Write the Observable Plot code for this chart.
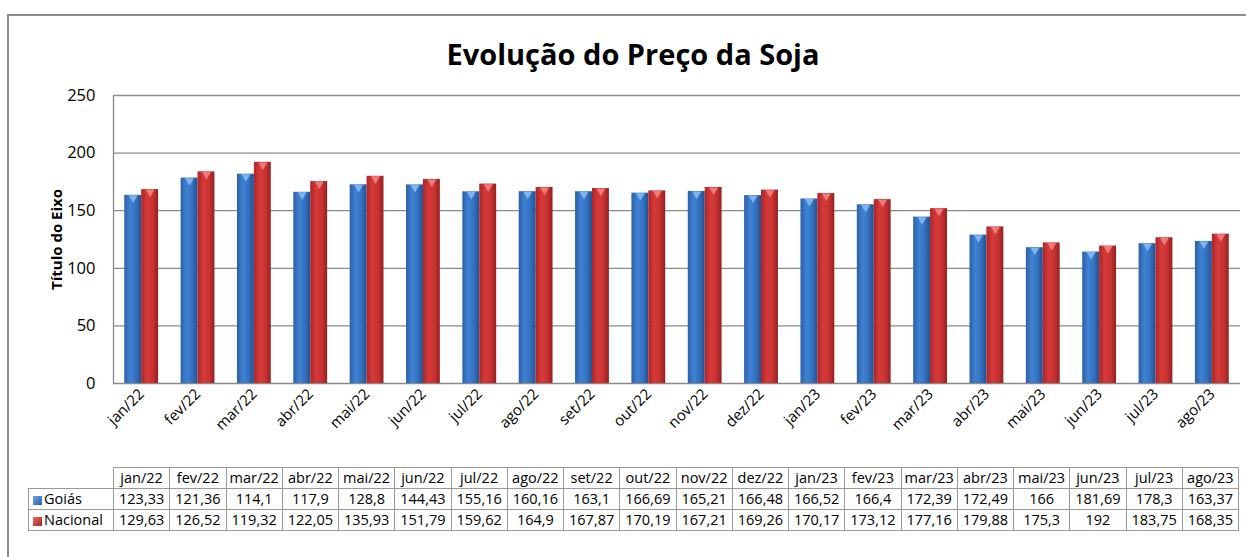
<!DOCTYPE html>
<html>
<head>
<meta charset="utf-8">
<script src="https://cdn.jsdelivr.net/npm/d3@7"></script>
<script src="https://cdn.jsdelivr.net/npm/@observablehq/plot@0.6"></script>
<style>
  html, body { margin: 0; padding: 0; background: #fff; overflow: hidden; }
  #wrap { position: relative; width: 1246px; height: 557px; overflow: hidden; font-family: "Open Sans", "Noto Sans", sans-serif; }
  #border { position: absolute; left: 7px; top: 14px; width: 1239px; height: 543px; border-top: 2px solid #8e8e8e; border-left: 2px solid #8e8e8e; box-sizing: border-box; }
  #title { position: absolute; left: 0; width: 1246px; top: 34px; text-align: center; font-size: 29px; font-weight: bold; color: #000; line-height: 40px; padding-left: 20px; box-sizing: border-box; }
  #chart { position: absolute; left: 0; top: 80px; }
  #tbl { position: absolute; left: 28px; top: 467px; border-collapse: collapse; table-layout: fixed; font-size: 14.5px; color: #000; }
  #tbl td { border: 1px solid #9a9a9a; text-align: center; height: 20px; padding: 0; white-space: nowrap; line-height: 20px; }
  #tbl td.lab { text-align: left; padding-left: 4px; }
  #tbl td.empty { border-top: none; border-left: none; }
  .sw { display: inline-block; width: 9px; height: 9px; margin-right: 2px; vertical-align: -1px; }
</style>
</head>
<body>
<div id="wrap">
  <div id="border"></div>
  <div id="title">Evolução do Preço da Soja</div>
  <div id="chart"></div>
  <table id="tbl"></table>
</div>
<script>
const months = ["jan/22","fev/22","mar/22","abr/22","mai/22","jun/22","jul/22","ago/22","set/22","out/22","nov/22","dez/22","jan/23","fev/23","mar/23","abr/23","mai/23","jun/23","jul/23","ago/23"];
const seriesNames = ["Goiás", "Nacional"];
// values as printed in the data table below the chart
const goias = [123.33,121.36,114.1,117.9,128.8,144.43,155.16,160.16,163.1,166.69,165.21,166.48,166.52,166.4,172.39,172.49,166,181.69,178.3,163.37];
const nacional = [129.63,126.52,119.32,122.05,135.93,151.79,159.62,164.9,167.87,170.19,167.21,169.26,170.17,173.12,177.16,179.88,175.3,192,183.75,168.35];
const yTicks = [0, 50, 100, 150, 200, 250];

// In the picture the bars show the table values in reverse order
const n = months.length;
const rows = months.map((m, i) => ({ i, month: m, goias: goias[n - 1 - i], nacional: nacional[n - 1 - i] }));

const chart = Plot.plot({
  width: 1246,
  height: 360,
  marginLeft: 113,
  marginRight: 6,
  marginTop: 15,
  marginBottom: 57,
  style: { fontFamily: "'Open Sans', 'Noto Sans', sans-serif", fontSize: "15px", color: "#000", background: "transparent", overflow: "visible" },
  x: {
    domain: [0, n],
    ticks: months.map((m, i) => i + 0.5),
    tickFormat: d => months[Math.floor(d)],
    tickRotate: -45,
    tickSize: 0,
    tickPadding: 8,
    label: null
  },
  y: {
    domain: [0, 250],
    ticks: yTicks,
    tickSize: 0,
    tickPadding: 18,
    label: null
  },
  marks: [
    Plot.ruleY(yTicks, { stroke: "#8a8a8a", strokeWidth: 1.3 }),
    Plot.ruleX([0], { stroke: "#8a8a8a", strokeWidth: 1.3 }),
    Plot.rectY(rows, { x1: d => d.i + 0.2, x2: d => d.i + 0.5, y: "goias", fill: "url(#gBlue)" }),
    Plot.rectY(rows, { x1: d => d.i + 0.5, x2: d => d.i + 0.8, y: "nacional", fill: "url(#gRed)" }),
    Plot.dot(rows, { x: d => d.i + 0.35, y: "goias", symbol: "triangle2", rotate: 180, r: 4.2, dy: 2.6, fill: "#7fb3ee", stroke: "none" }),
    Plot.dot(rows, { x: d => d.i + 0.65, y: "nacional", symbol: "triangle2", rotate: 180, r: 4.2, dy: 2.6, fill: "#ee7b78", stroke: "none" }),
    Plot.text(["Título do Eixo"], { frameAnchor: "left", textAnchor: "middle", dx: -56, rotate: -90, fontWeight: "bold", fontSize: 15, fill: "#000" })
  ]
});

const svgNS = "http://www.w3.org/2000/svg";
const defs = document.createElementNS(svgNS, "defs");
function grad(id, stops) {
  const g = document.createElementNS(svgNS, "linearGradient");
  g.setAttribute("id", id);
  g.setAttribute("x1", "0"); g.setAttribute("x2", "1"); g.setAttribute("y1", "0"); g.setAttribute("y2", "0");
  stops.forEach(([o, c]) => {
    const s = document.createElementNS(svgNS, "stop");
    s.setAttribute("offset", o); s.setAttribute("stop-color", c);
    g.appendChild(s);
  });
  defs.appendChild(g);
}
grad("gBlue", [["0", "#2c5fa8"], ["0.35", "#3f82d2"], ["0.7", "#3470bf"], ["1", "#23508f"]]);
grad("gRed", [["0", "#a9262a"], ["0.35", "#d73a38"], ["0.7", "#c63232"], ["1", "#93201f"]]);
chart.insertBefore(defs, chart.firstChild);
chart.querySelectorAll('[aria-label="y-axis"] text, [aria-label="y-axis tick label"] text').forEach(t => t.style.fontSize = "16.5px");
document.getElementById("chart").appendChild(chart);

// data table
const fmt = v => String(v).replace(".", ",");
const tbl = document.getElementById("tbl");
const colgroup = document.createElement("colgroup");
const c0 = document.createElement("col"); c0.style.width = "85px"; colgroup.appendChild(c0);
months.forEach(() => { const c = document.createElement("col"); c.style.width = "56.25px"; colgroup.appendChild(c); });
tbl.appendChild(colgroup);
tbl.style.width = (85 + 56.25 * n) + "px";
const head = document.createElement("tr");
const e = document.createElement("td"); e.className = "empty"; head.appendChild(e);
months.forEach(m => { const td = document.createElement("td"); td.textContent = m; head.appendChild(td); });
tbl.appendChild(head);
[[seriesNames[0], goias, "linear-gradient(135deg,#6aa6ea,#2b5fa6)"], [seriesNames[1], nacional, "linear-gradient(135deg,#ec6a66,#a0231f)"]].forEach(([name, vals, bg]) => {
  const tr = document.createElement("tr");
  const l = document.createElement("td"); l.className = "lab";
  const sw = document.createElement("span"); sw.className = "sw"; sw.style.background = bg;
  l.appendChild(sw); l.appendChild(document.createTextNode(name));
  tr.appendChild(l);
  vals.forEach(v => { const td = document.createElement("td"); td.textContent = fmt(v); tr.appendChild(td); });
  tbl.appendChild(tr);
});
</script>
</body>
</html>
